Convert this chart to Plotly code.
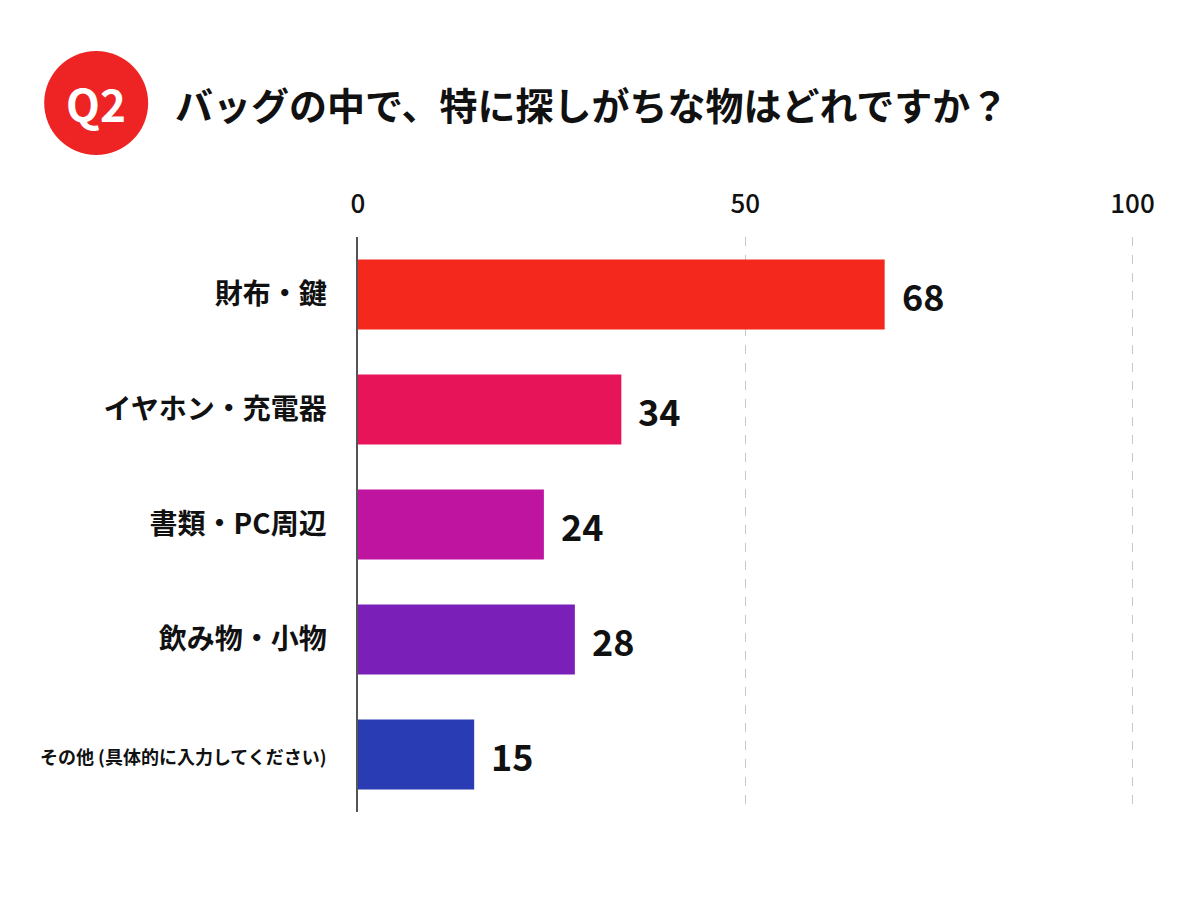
import plotly.graph_objects as go

categories = ["財布・鍵", "イヤホン・充電器", "書類・PC周辺", "飲み物・小物", "その他（具体的に入力してください）"]
tick_labels = ["財布・鍵", "イヤホン・充電器", "書類・PC周辺", "飲み物・小物",
               "<span style='font-size:18px'>その他 (具体的に入力してください)</span>"]
values = [68, 34, 24, 28, 15]
colors = ["#F5281E", "#E8145A", "#BE14A0", "#7A20B8", "#2A3CB4"]
x_ticks = [0, 50, 100]
x_max = 102

W, H = 1200, 900
L, T, B = 358, 237, 88
unit_px = 7.75
pw = x_max * unit_px
R = W - L - pw
ph = H - T - B

def px(x):
    return (x - L) / pw

def py(y):
    return (H - B - y) / ph

FONT = "Noto Sans CJK JP"

fig = go.Figure()
fig.add_trace(go.Bar(
    y=categories, x=values, orientation="h",
    marker=dict(color=colors, line=dict(width=0)),
    width=0.61, showlegend=False, hoverinfo="x+y",
))

annotations = [
    dict(x=v, y=c, xref="x", yref="y", text=str(v), showarrow=False,
         xanchor="left", yanchor="middle", xshift=15,
         font=dict(family=FONT, size=36, color="#111111", weight="bold"))
    for c, v in zip(categories, values)
]
annotations += [
    dict(text="Q2", xref="paper", yref="paper", x=px(96), y=py(103),
         showarrow=False, xanchor="center", yanchor="middle",
         font=dict(family=FONT, size=44, color="white", weight="bold")),
    dict(text="バッグの中で、特に探しがちな物はどれですか？", xref="paper", yref="paper",
         x=px(173), y=py(103), showarrow=False, xanchor="left", yanchor="middle",
         font=dict(family=FONT, size=38, color="#111111", weight="bold")),
]

fig.update_layout(
    width=W, height=H,
    margin=dict(l=L, r=R, t=T, b=B),
    paper_bgcolor="white", plot_bgcolor="white",
    font=dict(family=FONT, color="#111111"),
    xaxis=dict(
        range=[0, x_max], side="top", tickvals=x_ticks,
        showgrid=True, gridcolor="#C8C8C8", griddash="dash", gridwidth=1,
        zeroline=False, showline=False, ticks="",
        tickfont=dict(family=FONT, size=26, color="#111111", weight=500),
        ticklabelstandoff=18, fixedrange=True,
    ),
    yaxis=dict(
        categoryorder="array", categoryarray=categories, autorange="reversed",
        tickvals=categories, ticktext=tick_labels,
        showline=True, linecolor="#555555", linewidth=1.5,
        showgrid=False, ticks="", ticklabelstandoff=24,
        tickfont=dict(family=FONT, size=28, color="#111111", weight="bold"),
    ),
    shapes=[dict(
        type="circle", xref="paper", yref="paper",
        x0=px(44), x1=px(148), y0=py(155), y1=py(51),
        fillcolor="#EE2424", line=dict(width=0), layer="above",
    )],
    annotations=annotations,
)

fig.write_html("out.html")
